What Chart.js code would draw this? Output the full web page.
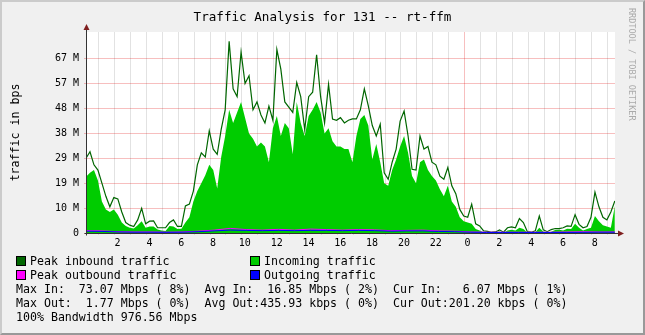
<!DOCTYPE html>
<html lang="en">
<head>
<meta charset="UTF-8">
<title>Traffic Analysis for 131 -- rt-ffm</title>
<script src="https://cdn.jsdelivr.net/npm/chart.js@4.4.1/dist/chart.umd.min.js"></script>
<style>
    body {
        margin: 0;
        background: #f0f0f0;
    }

    .graph {
        position: relative;
        width: 645px;
        height: 335px;
        font-family: 'DejaVu Sans Mono', monospace;
        color: #000;
    }

    .graph canvas {
        position: absolute;
        left: 0;
        top: 0;
    }

    .frame {
        position: absolute;
        left: 0;
        top: 0;
        width: 645px;
        height: 335px;
        box-sizing: border-box;
        border-style: solid;
        border-width: 2px;
        border-color: #cbcbcb #999 #999 #cbcbcb;
        pointer-events: none;
    }

    .title {
        position: absolute;
        top: 9px;
        left: 0;
        width: 645px;
        text-align: center;
        font-size: 12.6px;
        line-height: 15px;
    }

    .credit {
        position: absolute;
        left: 627px;
        top: 8px;
        writing-mode: vertical-rl;
        font-size: 8.5px;
        color: #aaa;
    }

    .txt {
        position: absolute;
        font-size: 11.6px;
        line-height: 14px;
        white-space: pre;
    }

    .box {
        position: absolute;
        width: 8px;
        height: 8px;
        border: 1px solid #000;
    }
</style>
</head>
<body>
<div class="graph">
    <canvas id="traffic" width="645" height="335"></canvas>

    <div class="title">Traffic Analysis for 131 -- rt-ffm</div>
    <div class="credit">RRDTOOL / TOBI OETIKER</div>

    <!-- legend -->
    <div class="box" style="left:16px; top:256px; background:#006600"></div>
    <div class="txt" style="left:30px; top:254px">Peak inbound traffic</div>
    <div class="box" style="left:250px; top:256px; background:#00cc00"></div>
    <div class="txt" style="left:264px; top:254px">Incoming traffic</div>
    <div class="box" style="left:16px; top:270px; background:#ff00ff"></div>
    <div class="txt" style="left:30px; top:268px">Peak outbound traffic</div>
    <div class="box" style="left:250px; top:270px; background:#0000ff"></div>
    <div class="txt" style="left:264px; top:268px">Outgoing traffic</div>

    <div class="txt" style="left:16px; top:282px">Max In:  73.07 Mbps ( 8%)  Avg In:  16.85 Mbps ( 2%)  Cur In:   6.07 Mbps ( 1%)
Max Out:  1.77 Mbps ( 0%)  Avg Out:435.93 kbps ( 0%)  Cur Out:201.20 kbps ( 0%)
100% Bandwidth 976.56 Mbps</div>

    <div class="frame"></div>
</div>

<script>
    // x axis is hours since midnight of the first day (24 = next midnight)
    const xMin = 0.2;
    const xMax = 33.46;
    const gridHours = Array.from({ length: 33 }, (_, i) => i + 1);

    // y axis in Mbps, rrdtool style ticks
    const yStep = 9.5367;
    const yMax = 76.68;
    const yTickLabels = ['0', '10 M', '19 M', '29 M', '38 M', '48 M', '57 M', '67 M'];

    // inbound samples, every 15 minutes starting at 00:12
    const inStart = 0.2;
    const inStep = 0.25;
    const avgIn = [
        21.5, 23, 24, 20, 12, 9, 8, 9, 7, 4,
        2.7, 2, 1.7, 3, 4.5, 2, 2.5, 2.5, 1.3, 1,
        0.8, 2.7, 2.5, 1.5, 1.6, 4, 6, 12, 16, 19,
        22, 26, 24, 17, 29, 37, 47, 42, 46, 50,
        44, 38, 36, 33, 34.5, 33, 27, 40, 44.6, 37,
        42, 40, 30, 50, 42, 37, 44.6, 47, 50, 46,
        38, 40, 35, 33, 33, 32, 32, 27, 37, 43.5,
        45, 41, 28, 34, 27, 19, 18, 24, 28, 33,
        37, 30.6, 21.7, 19, 27, 28, 24, 21.7, 20, 16.7,
        14, 18, 12, 10, 6, 4.5, 4, 3.5, 1.5, 1,
        0.3, 0.2, 0.1, 0.2, 0.6, 0.1, 1, 1.2, 1, 2,
        1.5, 0.2, 0.1, 0.3, 2, 0.6, 0.2, 0.5, 1.1, 1.2,
        1, 1.6, 1.5, 3.5, 2, 1, 1.5, 2, 6.5, 4.5,
        3, 2.5, 2, 10.3
    ];
    const peakIn = [
        28.5, 31, 26, 24, 19, 14, 10, 13.5, 13, 8,
        4, 3, 2.5, 5, 9.4, 3.5, 4.5, 4.6, 2, 2,
        2, 4, 5, 2.5, 2.5, 10.3, 11, 16, 26, 30.6,
        29, 39, 32, 30, 39.5, 47, 73.1, 55, 52, 69,
        57, 60, 47, 50, 45, 42, 48.4, 43, 70, 62.5,
        50, 48, 46, 57.4, 52, 39.5, 52, 53.7, 68, 52,
        42, 56.7, 43.5, 43, 44, 42, 43, 43.5, 43.5, 47,
        55, 48.5, 41, 37, 41.5, 23, 20.5, 27, 32, 42.7,
        46.5, 37, 24.3, 24, 37, 32, 33, 27, 26, 21.7,
        20.5, 25, 18, 15, 9, 6.5, 6, 11, 3.5, 2.7,
        0.8, 0.6, 0.3, 0.4, 1.2, 0.3, 2, 2.3, 2, 5.5,
        4, 0.5, 0.3, 0.8, 6.5, 1.2, 0.5, 1.3, 1.7, 1.7,
        2, 2.7, 2.5, 7, 3.3, 2, 2.5, 6, 15.6, 10,
        6, 5, 8, 12.2
    ];

    // outbound samples, roughly hourly
    const outStart = 0.2;
    const outStep = (33.45 - 0.2) / 33;
    const avgOut = [
        0.7, 0.6, 0.4, 0.3, 0.3, 0.25, 0.3, 0.5, 0.8, 1.1,
        1.0, 0.9, 1.0, 0.9, 1.0, 1.0, 0.9, 1.0, 0.9, 0.7,
        0.8, 0.8, 0.6, 0.5, 0.3, 0.2, 0.2, 0.2, 0.2, 0.2,
        0.2, 0.25, 0.3, 0.3
    ];
    const peakOut = [
        0.9, 0.8, 0.5, 0.4, 0.4, 0.3, 0.4, 0.7, 1.1, 1.77,
        1.3, 1.1, 1.4, 1.1, 1.5, 1.3, 1.1, 1.3, 1.2, 0.9,
        1.0, 1.1, 0.8, 0.7, 0.4, 0.3, 0.3, 0.3, 0.3, 0.3,
        0.4, 0.5, 0.4, 0.4
    ];

    const pink = 'rgba(225, 0, 0, 0.25)';
    const gray = 'rgba(140, 140, 140, 0.25)';
    const mono = 'DejaVu Sans Mono';

    function points(values, start, step) {
        return values.map((v, i) => ({ x: start + i * step, y: v }));
    }

    // canvas background, white plot area, axes and arrows like rrdtool
    const rrdFrame = {
        id: 'rrdFrame',
        beforeDraw(chart) {
            const { ctx, chartArea: a } = chart;
            ctx.save();
            ctx.fillStyle = '#f0f0f0';
            ctx.fillRect(0, 0, chart.width, chart.height);
            ctx.fillStyle = '#ffffff';
            ctx.fillRect(a.left, a.top, a.right - a.left, a.bottom - a.top);
            ctx.restore();
        },
        afterDatasetsDraw(chart) {
            const { ctx, chartArea: a } = chart;
            const x0 = Math.round(a.left) + 0.5;
            const y0 = Math.round(a.bottom) + 0.5;
            ctx.save();
            ctx.strokeStyle = '#333';
            ctx.lineWidth = 1;
            ctx.beginPath();
            ctx.moveTo(x0, y0 + 2);
            ctx.lineTo(x0, a.top - 3);
            ctx.moveTo(x0 - 2, y0);
            ctx.lineTo(a.right + 4, y0);
            ctx.stroke();
            ctx.fillStyle = '#7f1f1f';
            ctx.beginPath();
            ctx.moveTo(x0 - 3, a.top - 2);
            ctx.lineTo(x0 + 3, a.top - 2);
            ctx.lineTo(x0, a.top - 8);
            ctx.fill();
            ctx.beginPath();
            ctx.moveTo(a.right + 3, y0 - 3);
            ctx.lineTo(a.right + 3, y0 + 3);
            ctx.lineTo(a.right + 9, y0);
            ctx.fill();
            ctx.restore();
        }
    };

    new Chart(document.getElementById('traffic'), {
        type: 'line',
        data: {
            datasets: [{
                label: 'Outgoing traffic',
                data: points(avgOut, outStart, outStep),
                borderColor: '#0000ff',
                borderWidth: 1,
                fill: false,
                order: 0
            }, {
                label: 'Peak outbound traffic',
                data: points(peakOut, outStart, outStep),
                borderColor: '#ff00ff',
                borderWidth: 1,
                fill: false,
                order: 1
            }, {
                label: 'Peak inbound traffic',
                data: points(peakIn, inStart, inStep),
                borderColor: '#006600',
                borderWidth: 1.2,
                fill: false,
                order: 2
            }, {
                label: 'Incoming traffic',
                data: points(avgIn, inStart, inStep),
                borderColor: '#00cc00',
                backgroundColor: '#00cc00',
                borderWidth: 0,
                fill: 'origin',
                order: 3
            }]
        },
        options: {
            responsive: false,
            devicePixelRatio: 1,
            animation: false,
            elements: { point: { radius: 0 }, line: { tension: 0 } },
            layout: { padding: { top: 32, right: 30, bottom: 0, left: 0 } },
            plugins: {
                legend: { display: false },
                tooltip: { enabled: false }
            },
            scales: {
                x: {
                    type: 'linear',
                    min: xMin,
                    max: xMax,
                    afterBuildTicks: s => { s.ticks = gridHours.map(v => ({ value: v })); },
                    afterFit: s => { s.height = 102; },
                    ticks: {
                        autoSkip: false,
                        maxRotation: 0,
                        labelOffset: 3,
                        padding: 2,
                        color: '#000',
                        font: { family: mono, size: 10 },
                        callback: v => (v % 2 === 0 ? String(v % 24) : '')
                    },
                    grid: {
                        color: c => (c.tick && c.tick.value === 24 ? pink : gray),
                        tickLength: 2
                    },
                    border: { display: false }
                },
                y: {
                    min: 0,
                    max: yMax,
                    afterBuildTicks: s => { s.ticks = yTickLabels.map((_, i) => ({ value: i * yStep })); },
                    afterFit: s => { s.width = 86; },
                    ticks: {
                        padding: 5,
                        color: '#000',
                        font: { family: mono, size: 10 },
                        callback: (v, i) => yTickLabels[i]
                    },
                    grid: { color: pink, tickLength: 2 },
                    border: { display: false },
                    title: {
                        display: true,
                        text: 'traffic in bps',
                        color: '#000',
                        font: { family: mono, size: 11.6 },
                        padding: { top: 9, bottom: 0 }
                    }
                }
            }
        },
        plugins: [rrdFrame]
    });
</script>
</body>
</html>
